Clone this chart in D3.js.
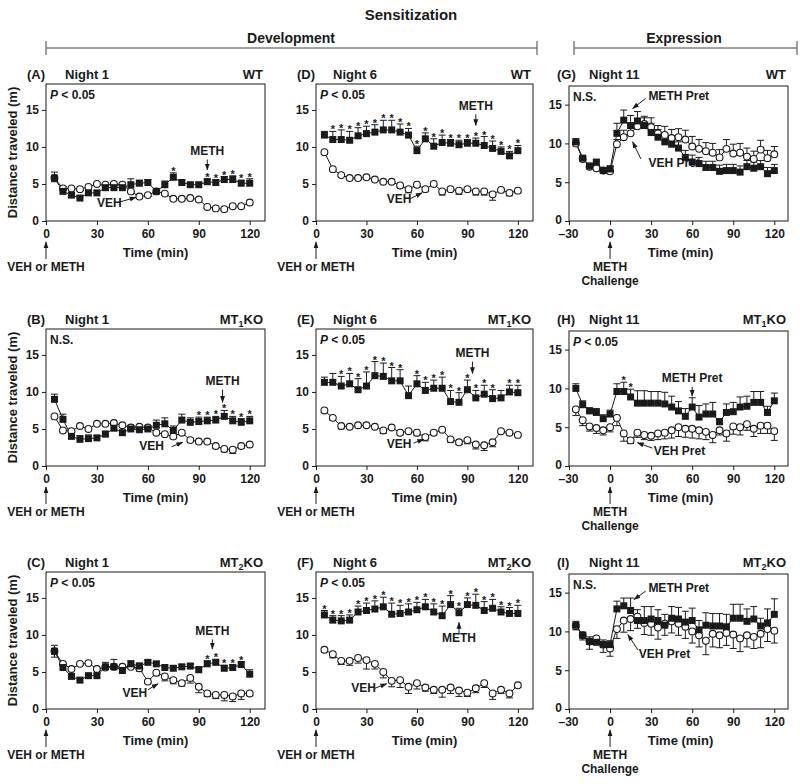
<!DOCTYPE html>
<html><head><meta charset="utf-8">
<script src="https://cdn.jsdelivr.net/npm/d3@7"></script>
<style>
body{margin:0;background:#fff}
text{font-family:"Liberation Sans",Arial,sans-serif;font-weight:bold;fill:#1a1a1a}
</style>
</head><body><svg id="c" width="800" height="784"></svg>
<script>
// ---------- data ----------
const timeDev = [5,10,15,20,25,30,35,40,45,50,55,60,65,70,75,80,85,90,95,100,105,110,115,120];
const timeExp = [-25,-20,-15,-10,-5,0,5,10,15,20,25,30,35,40,45,50,55,60,65,70,75,80,85,90,95,100,105,110,115,120];
const devTicks = [0,30,60,90,120];
const expTicks = [-30,0,30,60,90,120];
const yTicks = [0,5,10,15];

// (A) WT Night 1
const A_meth = [5.8,4.0,3.5,3.1,3.8,3.8,4.5,4.5,4.5,4.9,5.1,5.2,4.0,4.9,5.9,5.2,4.9,4.9,5.3,5.2,5.6,5.6,5.1,5.1];
const A_methErr = [0.8,0.6,0.3,0.3,0.3,0.3,0.3,0.3,0.3,0.8,0.4,0.4,0.3,0.5,0.6,0.3,0.3,0.3,0.4,0.4,0.4,0.5,0.4,0.6];
const A_veh = [5.8,4.4,4.4,4.3,4.6,5.0,4.9,5.0,4.9,4.0,3.3,3.5,4.0,3.7,3.0,3.0,3.1,2.9,1.9,1.7,1.6,2.0,2.0,2.5];
const A_vehErr = [0.5,0.3,0.2,0.2,0.2,0.2,0.2,0.2,0.2,0.2,0.2,0.2,0.2,0.2,0.2,0.2,0.2,0.2,0.2,0.2,0.2,0.2,0.2,0.2];
const A_stars = [75,95,100,105,110,115,120];

// (B) MT1KO Night 1
const B_meth = [9.0,6.3,4.0,3.6,3.7,3.8,4.3,5.1,4.5,5.0,4.9,5.0,5.5,5.7,4.8,6.2,5.9,6.0,6.1,6.2,6.7,6.1,5.9,6.1];
const B_methErr = [0.7,0.7,0.4,0.5,0.5,0.3,0.4,0.4,0.3,0.5,0.4,0.4,0.7,0.8,0.6,0.8,0.6,0.6,0.5,0.5,0.8,0.6,0.5,0.6];
const B_veh = [6.7,4.8,4.7,5.4,5.0,5.7,5.7,5.8,5.5,5.2,5.3,5.2,4.5,4.3,4.0,4.5,3.5,3.3,3.3,2.7,2.3,2.2,2.7,2.9];
const B_vehErr = [0.3,0.2,0.2,0.2,0.2,0.2,0.2,0.2,0.2,0.2,0.2,0.2,0.2,0.2,0.2,0.2,0.2,0.2,0.2,0.3,0.4,0.5,0.3,0.3];
const B_stars = [90,95,100,105,110,115,120];

// (C) MT2KO Night 1
const C_meth = [7.8,5.6,4.4,3.9,4.5,4.5,5.7,5.7,5.2,6.1,5.8,6.3,6.1,5.6,5.5,5.7,5.8,5.3,6.1,6.3,5.5,5.6,6.0,4.7];
const C_methErr = [0.8,0.4,0.3,0.3,0.3,0.3,0.6,1.0,0.4,0.4,0.4,0.3,0.3,0.3,0.3,0.3,0.3,0.4,0.4,0.4,0.4,0.4,0.4,0.6];
const C_veh = [7.8,6.1,5.4,6.1,6.2,5.4,5.6,5.7,5.7,5.7,5.5,3.7,4.9,4.4,3.9,3.5,4.2,3.0,2.1,1.9,1.9,1.7,2.1,2.1];
const C_vehErr = [0.8,0.2,0.2,0.2,0.2,0.2,0.2,0.2,0.2,0.2,0.4,0.2,0.4,0.6,0.5,0.4,0.7,0.8,0.4,0.5,0.8,0.7,0.8,0.3];
const C_stars = [95,100,105,110,115];

// (D) WT Night 6
const D_meth = [11.6,11.0,11.0,10.9,11.5,11.8,12.0,12.3,12.3,12.0,11.6,9.5,11.1,10.1,10.6,10.5,10.3,10.5,10.5,10.2,9.8,9.4,8.8,9.5];
const D_methErr = [0.5,1.1,1.3,1.2,1.1,1.0,1.0,1.3,1.3,1.1,0.9,0.6,0.8,1.0,1.0,0.5,0.6,0.5,0.7,1.2,1.0,0.6,0.6,0.7];
const D_veh = [9.3,7.0,6.2,5.8,5.8,5.9,5.6,5.3,5.3,4.8,4.3,4.9,4.3,5.0,4.0,4.3,4.1,4.3,4.0,4.0,3.6,4.2,3.8,4.1];
const D_vehErr = [0.3,0.2,0.2,0.2,0.2,0.2,0.2,0.2,0.2,0.3,0.5,0.3,0.3,0.2,0.5,0.3,0.5,0.3,0.5,0.5,0.8,0.3,0.4,0.3];
const D_stars = [10,15,20,25,30,35,40,45,50,55,60,65,70,75,80,85,90,95,100,105,110,115,120];

// (E) MT1KO Night 6
const E_meth = [11.3,11.3,10.8,11.1,10.3,10.8,12.2,12.1,11.5,11.5,9.5,11.1,10.2,10.5,10.5,8.7,8.6,10.3,9.2,9.7,9.1,9.2,10.0,9.9];
const E_methErr = [0.7,1.2,1.3,1.4,1.5,1.9,1.9,1.8,1.8,1.5,1.3,1.1,1.1,1.1,1.5,1.5,1.3,1.3,1.0,1.2,1.2,1.0,0.9,1.0];
const E_veh = [7.5,6.5,5.4,5.3,5.5,5.5,5.3,4.8,5.2,4.5,4.7,4.5,3.9,4.5,4.9,3.6,3.2,3.5,2.9,2.8,3.2,4.7,4.5,4.2];
const E_vehErr = [0.3,0.3,0.4,0.2,0.2,0.2,0.2,0.4,0.2,0.3,0.2,0.4,0.5,0.3,0.2,0.4,0.3,0.5,0.6,0.7,0.6,0.2,0.3,0.2];
const E_stars = [15,20,25,30,35,40,45,50,60,65,70,75,80,85,90,95,100,105,115,120];

// (F) MT2KO Night 6
const F_meth = [12.7,12.0,11.9,12.0,13.1,13.3,13.5,13.8,12.8,12.9,13.1,13.4,13.8,13.1,12.6,14.1,13.0,14.1,14.0,13.3,13.6,13.1,12.9,12.9];
const F_methErr = [0.6,0.6,0.7,0.7,0.8,1.0,1.1,1.3,1.5,1.1,1.1,1.0,1.0,1.1,1.3,1.2,0.6,0.9,1.5,1.2,1.2,0.7,0.8,1.1];
const F_veh = [8.0,7.4,6.5,6.5,6.9,6.6,6.1,5.0,3.8,3.9,3.0,3.5,2.9,2.6,2.6,2.9,2.5,2.2,2.8,3.5,2.1,2.6,2.1,3.2];
const F_vehErr = [0.3,0.5,0.5,0.6,0.7,1.2,0.7,0.8,0.8,1.0,0.9,0.8,0.5,0.5,1.0,0.8,0.8,0.5,0.6,0.6,0.8,0.5,0.6,0.3];
const F_stars = [5,10,15,20,25,30,35,40,45,50,55,60,65,70,75,80,85,90,95,100,105,110,115,120];

// (G) WT Night 11
const G_meth = [10.2,8.1,7.1,7.6,6.5,6.7,11.3,13.0,12.3,12.9,12.3,11.4,10.8,10.2,9.9,9.4,8.2,7.6,7.4,6.9,6.9,6.4,6.5,6.5,6.3,7.0,6.8,7.0,6.1,6.5];
const G_methErr = [0.4,0.3,0.3,0.3,0.3,0.4,1.3,1.3,1.3,1.2,1.0,1.2,1.0,1.0,0.9,0.8,0.9,0.9,0.8,0.8,0.8,0.8,0.8,0.8,0.8,0.8,0.8,0.8,0.8,0.8];
const G_veh = [10.0,8.0,7.0,6.8,6.5,6.4,9.9,10.8,11.3,12.2,12.5,12.1,11.3,11.1,10.7,10.8,10.5,9.6,9.3,9.0,8.8,8.2,9.3,8.7,8.8,8.3,8.0,9.2,8.1,8.6];
const G_vehErr = [0.3,0.3,0.3,0.3,0.3,0.6,0.6,0.9,1.0,1.0,1.0,1.2,1.0,1.1,1.1,1.1,1.2,1.3,1.2,1.1,1.2,1.0,1.2,1.2,1.2,1.1,1.0,1.2,1.0,1.0];
const G_stars = [];

// (H) MT1KO Night 11
const H_meth = [10.0,7.9,7.1,6.9,6.1,6.7,9.6,9.6,8.9,8.1,8.1,8.1,8.1,8.0,7.6,7.1,6.4,7.6,6.3,6.7,6.7,5.7,6.9,7.0,7.6,7.7,8.2,8.2,6.9,8.4];
const H_methErr = [0.6,0.5,0.4,0.5,0.5,0.5,1.0,1.2,1.0,1.6,1.6,1.5,1.5,1.5,1.4,1.2,1.0,1.2,1.5,1.3,1.5,0.4,1.1,1.2,1.3,1.3,1.4,1.4,0.8,1.0];
const H_veh = [7.3,5.9,5.1,4.9,4.6,5.0,6.2,4.2,3.3,4.3,4.0,3.9,4.2,4.3,4.6,5.0,4.8,4.8,4.6,4.4,4.0,4.6,4.2,5.1,5.0,5.4,4.8,5.2,5.2,4.5];
const H_vehErr = [0.8,0.7,0.6,0.7,0.6,0.6,1.0,1.0,0.4,0.6,0.6,0.6,0.8,0.8,1.0,1.2,1.1,1.2,1.1,1.0,1.0,0.6,1.0,1.0,1.0,0.8,1.0,1.0,1.0,1.2];
const H_stars = [10,15];

// (I) MT2KO Night 11
const I_meth = [10.8,9.5,8.7,8.6,8.3,8.3,12.9,13.3,12.7,11.4,11.4,11.6,11.4,10.8,11.7,11.6,11.2,11.4,10.2,10.8,10.7,10.7,10.6,11.7,11.7,11.3,11.6,10.7,11.1,12.2];
const I_methErr = [0.5,0.4,0.6,0.6,0.6,0.5,1.0,1.0,1.6,1.4,1.8,1.6,1.4,1.4,1.5,1.5,1.4,1.6,1.2,1.6,1.6,1.6,1.6,1.8,1.8,1.6,1.6,1.0,1.8,2.0];
const I_veh = [10.7,9.5,8.7,9.1,8.3,7.8,10.3,11.4,11.6,11.9,11.1,11.0,10.5,11.0,11.3,11.0,10.6,10.0,9.5,8.8,9.7,9.5,9.8,9.6,9.1,9.5,9.3,9.7,10.3,10.1];
const I_vehErr = [0.5,0.6,1.0,0.6,1.0,1.0,1.2,1.5,1.5,1.5,1.5,1.5,1.5,1.5,1.5,1.5,1.5,1.5,1.5,1.8,1.7,1.6,1.6,1.8,1.7,1.5,1.5,1.8,1.6,1.6];
const I_stars = [];

// ---------- layout ----------
const cols = [
  {left:46, right:265, dom:[0,129], top:84, bot:221, ydom:[0,18.5], ticks:devTicks, time:timeDev, letterDx:-19, nightDx:19, titleDx:0},
  {left:316, right:533, dom:[0,129], top:84, bot:221, ydom:[0,18.5], ticks:devTicks, time:timeDev, letterDx:-19, nightDx:17, titleDx:0},
  {left:569, right:788, dom:[-30,130], top:86, bot:221, ydom:[0,17.4], ticks:expTicks, time:timeExp, letterDx:-12, nightDx:20, titleDx:2}
];
const rowOff = [0,245,488];

const panels = [
  {L:"A",c:0,r:0,night:"Night 1",g:["WT"],stat:"P",m:A_meth,me:A_methErr,v:A_veh,ve:A_vehErr,s:A_stars,vDir:-1,
   ann:[{t:"METH",x:95,y:8.9,an:"middle",a:[95,8.3,95,6.9]},{t:"VEH",x:30,y:1.9,an:"start",a:[44,2.6,53,3.2]}]},
  {L:"B",c:0,r:1,night:"Night 1",g:["MT","1","KO"],stat:"NS",m:B_meth,me:B_methErr,v:B_veh,ve:B_vehErr,s:B_stars,vDir:-1,
   ann:[{t:"METH",x:104,y:10.9,an:"middle",a:[104,10.3,104,8.6]},{t:"VEH",x:55,y:2.2,an:"start",a:[74,2.6,80.5,3.2]}]},
  {L:"C",c:0,r:2,night:"Night 1",g:["MT","2","KO"],stat:"P",m:C_meth,me:C_methErr,v:C_veh,ve:C_vehErr,s:C_stars,vDir:-1,
   ann:[{t:"METH",x:98,y:10.0,an:"middle",a:[98,9.4,98,8.1]},{t:"VEH",x:45,y:1.6,an:"start",a:[60,2.6,66,3.4]}]},
  {L:"D",c:1,r:0,night:"Night 6",g:["WT"],stat:"P",m:D_meth,me:D_methErr,v:D_veh,ve:D_vehErr,s:D_stars,vDir:-1,
   ann:[{t:"METH",x:95,y:15.0,an:"middle",a:[95,14.4,95,12.9]},{t:"VEH",x:42,y:2.4,an:"start",a:[56,3.0,63,3.8]}]},
  {L:"E",c:1,r:1,night:"Night 6",g:["MT","1","KO"],stat:"P",m:E_meth,me:E_methErr,v:E_veh,ve:E_vehErr,s:E_stars,vDir:-1,
   ann:[{t:"METH",x:93,y:14.7,an:"middle",a:[93,14.1,93,12.5]},{t:"VEH",x:42,y:2.4,an:"start",a:[58,3.1,64,3.6]}]},
  {L:"F",c:1,r:2,night:"Night 6",g:["MT","2","KO"],stat:"P",m:F_meth,me:F_methErr,v:F_veh,ve:F_vehErr,s:F_stars,vDir:-1,
   ann:[{t:"METH",x:85,y:9.0,an:"middle",a:[85,10.1,85,11.7]},{t:"VEH",x:21,y:2.3,an:"start",a:[35,2.8,42,3.4]}]},
  {L:"G",c:2,r:0,night:"Night 11",g:["WT"],stat:"NS",m:G_meth,me:G_methErr,v:G_veh,ve:G_vehErr,s:G_stars,vDir:1,
   ann:[{t:"METH Pret",x:28,y:15.6,an:"start",a:[26,15.8,16.5,14.5]},{t:"VEH Pret",x:28,y:6.9,an:"start",a:[22.5,8.0,16.5,10.2]}]},
  {L:"H",c:2,r:1,night:"Night 11",g:["MT","1","KO"],stat:"P",m:H_meth,me:H_methErr,v:H_veh,ve:H_vehErr,s:H_stars,vDir:-1,
   ann:[{t:"METH Pret",x:60,y:10.8,an:"middle",a:[60,10.2,60,9.0]},{t:"VEH Pret",x:32,y:1.4,an:"start",a:[31,2.3,20,3.0]}]},
  {L:"I",c:2,r:2,night:"Night 11",g:["MT","2","KO"],stat:"NS",m:I_meth,me:I_methErr,v:I_veh,ve:I_vehErr,s:I_stars,vDir:-1,
   ann:[{t:"METH Pret",x:28,y:15.1,an:"start",a:[26,15.2,17.5,14.1]},{t:"VEH Pret",x:21,y:6.6,an:"start",a:[20.4,7.6,13,9.6]}]}
];

const ink = "#1a1a1a";
const svg = d3.select("#c");
const defs = svg.append("defs");
defs.append("marker").attr("id","ah").attr("viewBox","0 0 10 10").attr("refX",9).attr("refY",5)
  .attr("markerWidth",7).attr("markerHeight",7).attr("markerUnits","userSpaceOnUse").attr("orient","auto")
  .append("path").attr("d","M0,1.5 L10,5 L0,8.5 z").attr("fill",ink);

function arrow(g,x1,y1,x2,y2){
  g.append("line").attr("x1",x1).attr("y1",y1).attr("x2",x2).attr("y2",y2)
   .attr("stroke",ink).attr("stroke-width",1).attr("marker-end","url(#ah)");
}

// ---------- header ----------
svg.append("text").attr("x",411).attr("y",20).attr("text-anchor","middle").attr("font-size",15).text("Sensitization");
svg.append("text").attr("x",291).attr("y",43).attr("text-anchor","middle").attr("font-size",14).text("Development");
svg.append("text").attr("x",684).attr("y",43).attr("text-anchor","middle").attr("font-size",14).text("Expression");
[[46,537],[574,797]].forEach(([a,b])=>{
  svg.append("line").attr("x1",a).attr("x2",b).attr("y1",48).attr("y2",48).attr("stroke","#444").attr("stroke-width",1);
  [a,b].forEach(x=>svg.append("line").attr("x1",x).attr("x2",x).attr("y1",41).attr("y2",55).attr("stroke","#444").attr("stroke-width",1));
});

// ---------- panels ----------
panels.forEach(p=>{
  const C = cols[p.c], off = rowOff[p.r];
  const x = d3.scaleLinear().domain(C.dom).range([C.left,C.right]);
  const y = d3.scaleLinear().domain(C.ydom).range([C.bot+off,C.top+off]);
  const g = svg.append("g");
  const T = C.time;

  // frame
  g.append("rect").attr("x",C.left).attr("y",C.top+off).attr("width",C.right-C.left).attr("height",C.bot-C.top)
   .attr("fill","none").attr("stroke",ink).attr("stroke-width",1);

  // axes
  const ya = g.append("g").attr("transform",`translate(${C.left},0)`)
    .call(d3.axisLeft(y).tickValues(yTicks).tickSize(4).tickPadding(3));
  const xa = g.append("g").attr("transform",`translate(0,${C.bot+off})`)
    .call(d3.axisBottom(x).tickValues(C.ticks).tickSize(4).tickPadding(4).tickFormat(d=>d<0?"\u2013"+(-d):d));
  [ya,xa].forEach(a=>{
    a.select(".domain").remove();
    a.selectAll(".tick line").attr("stroke",ink);
    a.selectAll(".tick text").attr("font-size",12).attr("font-family",null).attr("fill",ink);
  });
  xa.selectAll(".tick text").filter(d=>d<0).attr("dx",-1);
  if(p.c===2) ya.selectAll(".tick text").filter(d=>d===0).attr("dy","0.2em");

  // axis title
  g.append("text").attr("x",(C.left+C.right)/2 + C.titleDx).attr("y",C.bot+off+36)
   .attr("text-anchor","middle").attr("font-size",13).text("Time (min)");
  if(p.c===0){
    g.append("text").attr("transform",`translate(17,${(C.top+C.bot)/2+off}) rotate(-90)`)
     .attr("text-anchor","middle").attr("font-size",13).text("Distance traveled (m)");
  }

  // injection marker below axis
  const x0 = x(0);
  arrow(g,x0,C.bot+off+38,x0,C.bot+off+21);
  if(p.c<2){
    g.append("text").attr("x",x0).attr("y",C.bot+off+50).attr("text-anchor","middle").attr("font-size",12).text("VEH or METH");
  } else {
    g.append("text").attr("x",x0).attr("y",C.bot+off+50).attr("text-anchor","middle").attr("font-size",12).text("METH");
    g.append("text").attr("x",x0).attr("y",C.bot+off+64).attr("text-anchor","middle").attr("font-size",12).text("Challenge");
  }

  // panel title
  const ty = off+79;
  g.append("text").attr("x",C.left+C.letterDx).attr("y",ty).attr("font-size",13).text("("+p.L+")");
  g.append("text").attr("x",C.left+C.nightDx).attr("y",ty).attr("font-size",13).text(p.night);
  const gt = g.append("text").attr("x",C.right-2).attr("y",ty).attr("text-anchor","end").attr("font-size",13);
  if(p.g.length===1){ gt.text(p.g[0]); }
  else {
    gt.append("tspan").text(p.g[0]);
    gt.append("tspan").attr("font-size",9).attr("dy",3).text(p.g[1]);
    gt.append("tspan").attr("dy",-3).text(p.g[2]);
  }

  // stat text
  const st = g.append("text").attr("x",C.left+4).attr("y",C.top+off+15).attr("font-size",12);
  if(p.stat==="P"){ st.append("tspan").attr("font-style","italic").text("P"); st.append("tspan").text(" < 0.05"); }
  else st.text("N.S.");

  const mData = T.map((t,i)=>({t,v:p.m[i],e:p.me[i]}));
  const vData = T.map((t,i)=>({t,v:p.v[i],e:p.ve[i]}));

  // error bars
  function errs(data,dir){
    data.forEach(d=>{
      const y0=y(d.v), y1=y(d.v+dir*d.e), xx=x(d.t);
      g.append("line").attr("x1",xx).attr("x2",xx).attr("y1",y0).attr("y2",y1).attr("stroke",ink).attr("stroke-width",1);
      g.append("line").attr("x1",xx-3.5).attr("x2",xx+3.5).attr("y1",y1).attr("y2",y1).attr("stroke",ink).attr("stroke-width",1);
    });
  }
  errs(vData,p.vDir);
  errs(mData,1);

  // lines
  const line = d3.line().x(d=>x(d.t)).y(d=>y(d.v));
  g.append("path").datum(vData).attr("d",line).attr("fill","none").attr("stroke",ink).attr("stroke-width",1);
  g.append("path").datum(mData).attr("d",line).attr("fill","none").attr("stroke",ink).attr("stroke-width",1);

  // markers
  g.selectAll(null).data(vData).enter().append("circle")
   .attr("cx",d=>x(d.t)).attr("cy",d=>y(d.v)).attr("r",3.4).attr("fill","#fff").attr("stroke",ink).attr("stroke-width",1.1);
  g.selectAll(null).data(mData).enter().append("rect")
   .attr("x",d=>x(d.t)-3.5).attr("y",d=>y(d.v)-3.5).attr("width",7).attr("height",7).attr("fill",ink);

  // stars
  mData.filter(d=>p.s.includes(d.t)).forEach(d=>{
    g.append("text").attr("x",x(d.t)).attr("y",y(d.v+d.e)+2).attr("text-anchor","middle").attr("font-size",11).text("*");
  });

  // annotations
  p.ann.forEach(a=>{
    g.append("text").attr("x",x(a.x)).attr("y",y(a.y)).attr("text-anchor",a.an).attr("font-size",12).text(a.t);
    arrow(g,x(a.a[0]),y(a.a[1]),x(a.a[2]),y(a.a[3]));
  });
});
</script>
</body></html>
